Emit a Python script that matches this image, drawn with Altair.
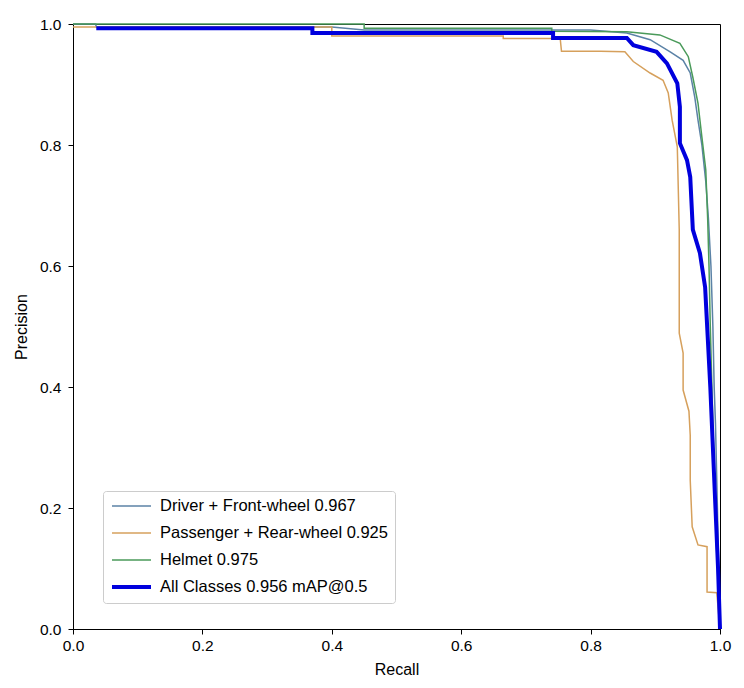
import altair as alt
import pandas as pd

series_names = [
    "Driver + Front-wheel 0.967",
    "Passenger + Rear-wheel 0.925",
    "Helmet 0.975",
    "All Classes 0.956 mAP@0.5",
]
series_colors = ["#5b82a6", "#d6a05c", "#4a9a5a", "#0000dd"]
series_widths = [1.5, 1.5, 1.5, 4]

driver_r = [0.0, 0.035, 0.036, 0.08, 0.40, 0.45, 0.80, 0.856, 0.892, 0.923, 0.943, 0.954, 0.961, 0.966,
            0.972, 0.978, 0.982, 0.986, 0.989, 0.991, 0.993, 0.996, 0.998, 1.0]
driver_p = [1.0, 1.0, 0.995, 0.995, 0.995, 0.99, 0.99, 0.985, 0.974, 0.954, 0.94, 0.919, 0.879, 0.841,
            0.80, 0.74, 0.68, 0.60, 0.50, 0.40, 0.34, 0.20, 0.10, 0.0]

passenger_r = [0.0, 0.40, 0.40, 0.665, 0.665, 0.753, 0.755, 0.815, 0.853, 0.866, 0.892, 0.912, 0.92,
               0.926, 0.934, 0.937, 0.937, 0.943, 0.943, 0.952, 0.954, 0.954, 0.957, 0.966, 0.98, 0.98,
               0.995, 1.0]
passenger_p = [0.995, 0.995, 0.98, 0.98, 0.976, 0.976, 0.955, 0.955, 0.954, 0.938, 0.919, 0.907, 0.886,
               0.841, 0.797, 0.66, 0.489, 0.456, 0.395, 0.36, 0.32, 0.246, 0.169, 0.139, 0.136, 0.061,
               0.06, 0.0]

helmet_r = [0.0, 0.45, 0.45, 0.74, 0.74, 0.856, 0.907, 0.938, 0.951, 0.958, 0.966, 0.972, 0.978, 0.981,
            0.983, 0.985, 0.987, 0.99, 0.994, 1.0]
helmet_p = [1.0, 1.0, 0.993, 0.993, 0.988, 0.987, 0.982, 0.968, 0.946, 0.912, 0.869, 0.813, 0.759, 0.676,
            0.60, 0.50, 0.42, 0.30, 0.15, 0.0]

all_r = [0.036, 0.37, 0.37, 0.742, 0.742, 0.856, 0.866, 0.902, 0.918, 0.934, 0.938, 0.938, 0.949, 0.954,
         0.958, 0.969, 0.977, 0.981, 0.985, 0.989, 0.993, 0.997, 1.0]
all_p = [0.993, 0.993, 0.985, 0.985, 0.977, 0.977, 0.965, 0.954, 0.935, 0.902, 0.863, 0.803, 0.775, 0.747,
         0.66, 0.621, 0.565, 0.483, 0.40, 0.30, 0.20, 0.10, 0.0]

x_ticks = [0.0, 0.2, 0.4, 0.6, 0.8, 1.0]
y_ticks = [0.0, 0.2, 0.4, 0.6, 0.8, 1.0]

rows = []
for name, rs, ps in zip(series_names, [driver_r, passenger_r, helmet_r, all_r],
                        [driver_p, passenger_p, helmet_p, all_p]):
    for i, (r, p) in enumerate(zip(rs, ps)):
        rows.append({"series": name, "recall": r, "precision": p, "idx": i})
df = pd.DataFrame(rows)

FONT = "Liberation Sans"

legend_kw = dict(title=None, orient="none", legendX=30, legendY=467,
                 fillColor="white", strokeColor="#cccccc", cornerRadius=3,
                 padding=7, rowPadding=10, symbolType="stroke", symbolSize=1521,
                 clipHeight=16, labelFontSize=16.5, labelFont=FONT,
                 labelOffset=7, labelLimit=400)

chart = alt.Chart(df).mark_line(strokeJoin="miter").encode(
    x=alt.X("recall:Q", title="Recall",
            scale=alt.Scale(domain=[0, 1], nice=False, zero=False),
            axis=alt.Axis(values=x_ticks, format=".1f", grid=False, tickSize=5,
                          labelPadding=4, titlePadding=8, labelFlush=False)),
    y=alt.Y("precision:Q", title="Precision",
            scale=alt.Scale(domain=[0, 1], nice=False, zero=False),
            axis=alt.Axis(values=y_ticks, format=".1f", grid=False, tickSize=5,
                          labelPadding=7, titlePadding=10, labelFlush=False)),
    color=alt.Color("series:O", sort=series_names,
                    scale=alt.Scale(type="ordinal", domain=series_names, range=series_colors),
                    legend=alt.Legend(**legend_kw)),
    strokeWidth=alt.StrokeWidth("series:O", sort=series_names,
                                scale=alt.Scale(type="ordinal", domain=series_names,
                                                range=series_widths),
                                legend=alt.Legend(**legend_kw)),
    detail="series:N",
    order=alt.Order("idx:Q"),
).properties(
    width=647, height=605,
    autosize=alt.AutoSizeParams(type="none"),
    padding={"left": 65, "top": 16, "right": 16, "bottom": 59},
).configure_view(
    stroke="black", strokeWidth=1
).configure_axis(
    domainColor="black", tickColor="black", labelColor="black", titleColor="black",
    labelFont=FONT, titleFont=FONT, labelFontSize=15.5, titleFontSize=16,
    titleFontWeight="normal", domainWidth=1, tickWidth=1,
)

chart.save("out.html", embed_options={"renderer": "svg", "actions": False})
